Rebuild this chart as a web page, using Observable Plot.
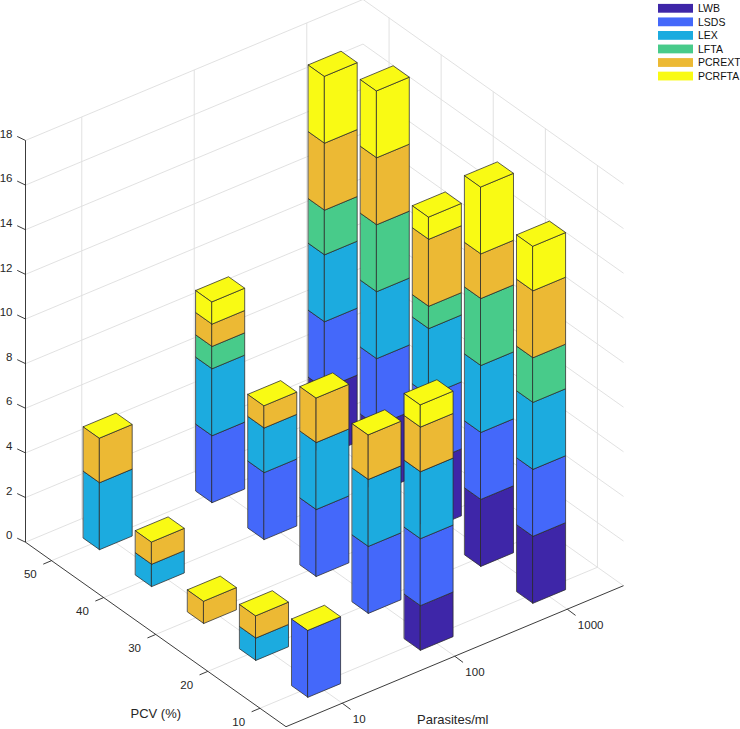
<!DOCTYPE html>
<html>
<head>
<meta charset="utf-8">
<script src="https://cdn.jsdelivr.net/npm/d3@7"></script>
<script src="https://cdn.jsdelivr.net/npm/@observablehq/plot@0.6"></script>
<style>
  html, body { margin: 0; padding: 0; background: #fff; }
  #chart { width: 740px; height: 729px; overflow: hidden; }
</style>
</head>
<body>
<div id="chart"></div>
<script>
// ---------------- DATA ----------------
const parasites = ["10", "100", "1000"];          // Parasites/ml categories (rows)
const pcvLevels = [10, 20, 30, 40, 50];            // PCV (%) categories (columns)
const zTicks = [0, 2, 4, 6, 8, 10, 12, 14, 16, 18];
const seriesNames = ["LWB", "LSDS", "LEX", "LFTA", "PCREXT", "PCRFTA"];
const seriesColors = ["#3e26a8", "#4468fa", "#1cabdf", "#48cb8a", "#ecb934", "#f9fa14"];

// values: [parasite index][pcv index] with pcv order 10,20,30,40,50
const LWB    = [[0, 0, 0, 0, 0], [2, 0, 0, 0, 0], [3, 3, 3, 3, 3]];
const LSDS   = [[3, 0, 0, 0, 0], [3, 3, 3, 3, 3], [3, 3, 3, 3, 3]];
const LEX    = [[0, 1, 0, 1, 3], [3, 3, 3, 2, 3], [3, 3, 3, 3, 3]];
const LFTA   = [[0, 0, 0, 0, 0], [0, 0, 0, 0, 1], [2, 3, 1, 3, 2]];
const PCREXT = [[0, 1, 1, 1, 2], [2, 2, 2, 1, 1], [3, 2, 3, 3, 3]];
const PCRFTA = [[0, 0, 0, 0, 0], [1, 0, 0, 0, 1], [2, 3, 1, 3, 3]];
const seriesValues = [LWB, LSDS, LEX, LFTA, PCREXT, PCRFTA];

// ---------------- 3D VIEW (oblique projection into the plot's x/y scales) ----------------
const W = 740, H = 729;
const O = [25, 541.7];      // screen point of (parasite 0.5, PCV 55, z 0)
const U = [112.5, -47];     // per parasite category step
const V = [52.1, 36.9];     // per 10 PCV decrease
const ZS = 22.32;           // per z unit
const pLim = [0.5, 3.5], cLim = [5, 55], zMax = 18;
const hp = 0.145, hc = 1.55; // bar half-widths (category units / PCV units)

function proj(p, c, z) {
  const a = p - 0.5, q = (55 - c) / 10;
  return [O[0] + a * U[0] + q * V[0], O[1] + a * U[1] + q * V[1] - z * ZS];
}
function seg(A, B, extra = {}) {
  const a = proj(...A), b = proj(...B);
  return {x1: a[0], y1: a[1], x2: b[0], y2: b[1], ...extra};
}

// grid lines
const grid = [];
zTicks.forEach(z => {
  grid.push(seg([pLim[0], cLim[1], z], [pLim[1], cLim[1], z]));
  grid.push(seg([pLim[1], cLim[1], z], [pLim[1], cLim[0], z]));
});
parasites.forEach((_, i) => {
  grid.push(seg([i + 1, cLim[1], 0], [i + 1, cLim[1], zMax]));
  grid.push(seg([i + 1, cLim[1], 0], [i + 1, cLim[0], 0]));
});
pcvLevels.forEach(c => {
  grid.push(seg([pLim[1], c, 0], [pLim[1], c, zMax]));
  grid.push(seg([pLim[0], c, 0], [pLim[1], c, 0]));
});

// axis lines
const axes = [
  seg([pLim[0], cLim[1], 0], [pLim[0], cLim[1], zMax]),
  seg([pLim[0], cLim[1], 0], [pLim[0], cLim[0], 0]),
  seg([pLim[0], cLim[0], 0], [pLim[1], cLim[0], 0])
];

// ticks
const zTickData = zTicks.map(z => { const s = proj(pLim[0], cLim[1], z); return {x: s[0], y: s[1], label: String(z)}; });
const pcvTickData = pcvLevels.map(c => { const s = proj(pLim[0], c, 0); return {x: s[0], y: s[1], label: String(c)}; });
const parTickData = parasites.map((l, i) => { const s = proj(i + 1, cLim[0], 0); return {x: s[0], y: s[1], label: l}; });
const tickLinks = [
  ...zTickData.map(d => ({x1: d.x, y1: d.y, x2: d.x - 8.3, y2: d.y - 4})),
  ...pcvTickData.map(d => ({x1: d.x, y1: d.y, x2: d.x - 8.3, y2: d.y + 3.5})),
  ...parTickData.map(d => ({x1: d.x, y1: d.y, x2: d.x + 8.3, y2: d.y + 6.2}))
];
const pcvTitle = (() => { const s = proj(pLim[0], 30, 0); return [{x: s[0], y: s[1], t: "PCV (%)"}]; })();
const parTitle = (() => { const s = proj(2, cLim[0], 0); return [{x: s[0], y: s[1], t: "Parasites/ml"}]; })();

// bars -> faces
const bars = [];
parasites.forEach((_, i) => pcvLevels.forEach((c, j) => {
  bars.push({p: i + 1, c, vals: seriesValues.map(s => s[i][j])});
}));
const closeness = b => -1.264 * b.p + (55 - b.c) / 10;
bars.sort((a, b) => closeness(a) - closeness(b));

const faces = [];
let fid = 0;
function addFace(pts, color) {
  const id = fid++;
  pts.forEach(P => { const s = proj(...P); faces.push({id, x: s[0], y: s[1], color}); });
}
for (const b of bars) {
  let z0 = 0;
  b.vals.forEach((v, k) => {
    if (v > 0) {
      const z1 = z0 + v;
      const pl = b.p - hp, pr = b.p + hp, cb = b.c + hc, cf = b.c - hc;
      addFace([[pl, cb, z0], [pl, cf, z0], [pl, cf, z1], [pl, cb, z1]], seriesColors[k]);
      addFace([[pl, cf, z0], [pr, cf, z0], [pr, cf, z1], [pl, cf, z1]], seriesColors[k]);
      z0 = z1;
    }
  });
  if (z0 > 0) {
    const pl = b.p - hp, pr = b.p + hp, cb = b.c + hc, cf = b.c - hc;
    addFace([[pl, cf, z0], [pr, cf, z0], [pr, cb, z0], [pl, cb, z0]], seriesColors[seriesColors.length - 1]);
  }
}

// legend
const legend = seriesNames.map((n, k) => ({n, color: seriesColors[k], yc: 8.3 + k * 13.55}));

const ink = "#262626";
const chart = Plot.plot({
  width: W, height: H, margin: 0,
  x: {domain: [0, W], range: [0, W], axis: null},
  y: {domain: [0, H], range: [0, H], axis: null},
  color: {type: "identity"},
  style: {fontFamily: "'Liberation Sans', Arial, Helvetica, sans-serif", background: "#fff", overflow: "visible"},
  marks: [
    Plot.link(grid, {x1: "x1", y1: "y1", x2: "x2", y2: "y2", stroke: "#dedede", strokeWidth: 0.9}),
    Plot.link(axes, {x1: "x1", y1: "y1", x2: "x2", y2: "y2", stroke: ink, strokeWidth: 0.9}),
    Plot.link(tickLinks, {x1: "x1", y1: "y1", x2: "x2", y2: "y2", stroke: ink, strokeWidth: 0.9}),
    Plot.text(zTickData, {x: "x", y: "y", text: "label", textAnchor: "end", dx: -13, dy: -6.5, fontSize: 11.5, fill: ink}),
    Plot.text(pcvTickData, {x: "x", y: "y", text: "label", textAnchor: "end", dx: -14.8, dy: 13.8, fontSize: 11.5, fill: ink}),
    Plot.text(parTickData, {x: "x", y: "y", text: "label", textAnchor: "start", dx: 10.6, dy: 16, fontSize: 11.5, fill: ink}),
    Plot.text(pcvTitle, {x: "x", y: "y", text: "t", dx: 0, dy: 79, fontSize: 13, fill: ink}),
    Plot.text(parTitle, {x: "x", y: "y", text: "t", dx: -2, dy: 64, fontSize: 13, fill: ink}),
    Plot.line(faces, {x: "x", y: "y", z: "id", fill: "color", stroke: "#2a2a2a", strokeWidth: 0.75, strokeLinejoin: "round", curve: "linear-closed"}),
    Plot.rect(legend, {x1: 658, x2: 693, y1: d => d.yc - 4.4, y2: d => d.yc + 4.4, fill: "color"}),
    Plot.text(legend, {x: 697.5, y: "yc", text: "n", textAnchor: "start", fontSize: 10.5, fill: "#111"})
  ]
});
document.getElementById("chart").appendChild(chart);
</script>
</body>
</html>
